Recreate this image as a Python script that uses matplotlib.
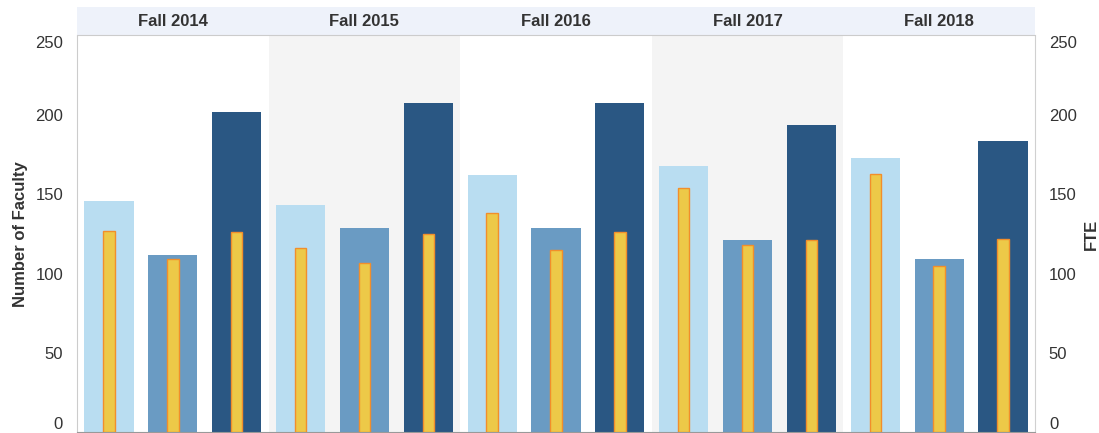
import numpy as np
import matplotlib
matplotlib.use("Agg")
import matplotlib.pyplot as plt

plt.rcParams['font.family'] = ['Liberation Sans', 'DejaVu Sans']

# Data
years = ["Fall 2014", "Fall 2015", "Fall 2016", "Fall 2017", "Fall 2018"]
# three faculty groups per year (light, medium, dark)
faculty_light = [146, 143, 162, 168, 173]
faculty_mid = [112, 129, 129, 121, 109]
faculty_dark = [202, 208, 208, 194, 184]
# FTE values for each group
fte_light = [127, 116, 138, 154, 163]
fte_mid = [109, 107, 115, 118, 105]
fte_dark = [126, 125, 126, 121, 122]

colors = ["#b9ddf1", "#6a9bc3", "#2a5783"]
text_color = "#333333"

fig = plt.figure(figsize=(10.99, 4.33), dpi=100)
left, right = 77 / 1099, 1035 / 1099
bottom, top = 1 / 433, 1 - 36 / 433
ax = fig.add_axes([left, bottom, right - left, top - bottom])
hdr = fig.add_axes([left, 1 - 35 / 433, right - left, 28 / 433])

n = len(years)
faculty = [faculty_light, faculty_mid, faculty_dark]
fte = [fte_light, fte_mid, fte_dark]

for i in range(n):
    if i % 2 == 1:
        ax.axvspan(i * 3 - 0.5, i * 3 + 2.5, color="#f4f4f4", zorder=0, lw=0)
    for j in range(3):
        x = i * 3 + j
        ax.bar(x, faculty[j][i], width=0.77, color=colors[j], zorder=2)
        ax.bar(x, fte[j][i], width=0.18, color="#edc948", edgecolor="#f28e2b",
               linewidth=1.0, zorder=3)

ax.set_xlim(-0.5, n * 3 - 0.5)
ax.set_ylim(0, 250)
ax.set_xticks([])
ax.set_yticks([0, 50, 100, 150, 200, 250])
ax.tick_params(axis='y', length=0, pad=10, labelsize=12, labelcolor=text_color)
ax.set_ylabel("Number of Faculty", fontsize=12, fontweight='bold', color=text_color, labelpad=5)
ax.spines["top"].set_visible(False)
ax.spines["left"].set_color("#cccccc")
ax.spines["right"].set_color("#d0d0d0")
ax.spines["bottom"].set_color("#999999")

ax2 = ax.twinx()
ax2.set_ylim(0, 250)
ax2.set_yticks([0, 50, 100, 150, 200, 250])
ax2.tick_params(axis='y', length=0, pad=10, labelsize=12, labelcolor=text_color)
ax2.set_ylabel("FTE", fontsize=12, fontweight='bold', color=text_color, labelpad=5)
for s in ax2.spines.values():
    s.set_visible(False)

for a in (ax, ax2):
    labels = a.get_yticklabels()
    labels[0].set_va("bottom")
    labels[-1].set_va("top")

# header strip
hdr.set_facecolor("#eef2fa")
hdr.set_xlim(0, n)
hdr.set_ylim(0, 1)
hdr.set_xticks([])
hdr.set_yticks([])
for s in ["top", "left", "right"]:
    hdr.spines[s].set_visible(False)
hdr.spines["bottom"].set_color("#cccccc")
for i, y in enumerate(years):
    hdr.text(i + 0.5, 0.5, y, ha="center", va="center", fontsize=12,
             fontweight='bold', color=text_color)

fig.savefig("out.png", dpi=100)
